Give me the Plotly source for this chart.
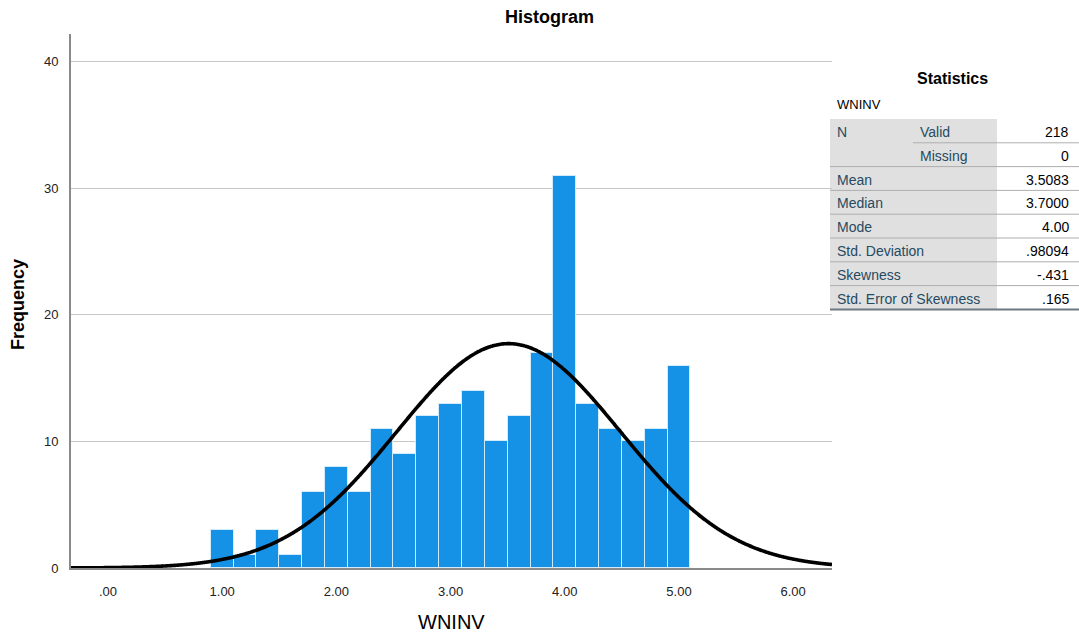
import numpy as np
import plotly.graph_objects as go

# ---- data ----
bin_centers = [1.0, 1.2, 1.4, 1.6, 1.8, 2.0, 2.2, 2.4, 2.6, 2.8, 3.0,
               3.2, 3.4, 3.6, 3.8, 4.0, 4.2, 4.4, 4.6, 4.8, 5.0]
frequencies = [3, 1, 3, 1, 6, 8, 6, 11, 9, 12, 13,
               14, 10, 12, 17, 31, 13, 11, 10, 11, 16]
bin_width = 0.2
n_valid = 218
n_missing = 0
mean_val = 3.5083
median_val = 3.7000
mode_val = 4.00
std_val = 0.98094
skew_val = -0.431
se_skew_val = 0.165

x_tick_vals = [0, 1, 2, 3, 4, 5, 6]
x_tick_text = [".00", "1.00", "2.00", "3.00", "4.00", "5.00", "6.00"]
y_tick_vals = [0, 10, 20, 30, 40]

stat_labels = ["Mean", "Median", "Mode", "Std. Deviation", "Skewness", "Std. Error of Skewness"]
stat_values = ["3.5083", "3.7000", "4.00", ".98094", "-.431", ".165"]

W, H = 1079, 635
def px(x):
    return x / W
def py(y):
    return 1 - y / H

x_range = [-0.324, 6.34]
y_range = [0, 42.2]

fig = go.Figure()
fig.add_trace(go.Bar(
    x=bin_centers, y=frequencies, width=bin_width,
    marker=dict(color="#1591E6", line=dict(color="rgba(220,238,252,0.9)", width=1)),
    showlegend=False, hoverinfo="x+y"))

xs = np.linspace(x_range[0], x_range[1], 600)
ys = n_valid * bin_width / (std_val * np.sqrt(2 * np.pi)) * np.exp(-0.5 * ((xs - mean_val) / std_val) ** 2)
fig.add_trace(go.Scatter(x=xs, y=ys, mode="lines", line=dict(color="#000000", width=3.6, shape="spline"),
                         showlegend=False, hoverinfo="skip"))

fig.update_layout(
    width=W, height=H,
    margin=dict(l=0, r=0, t=0, b=0),
    paper_bgcolor="white", plot_bgcolor="white",
    font=dict(family="Liberation Sans, Arial, sans-serif", color="#222222"),
    bargap=0,
    xaxis=dict(domain=[px(71), px(832)], range=x_range, tickvals=x_tick_vals, ticktext=x_tick_text,
               showgrid=False, zeroline=False, showline=True, linecolor="#8a8a8a", linewidth=2,
               ticks="", tickfont=dict(size=13, color="#222222"), ticklabelstandoff=10, automargin=False),
    yaxis=dict(domain=[py(568), py(34)], range=y_range, tickvals=y_tick_vals,
               showgrid=True, gridcolor="#c6c6c6", gridwidth=1.3, zeroline=False,
               showline=True, linecolor="#8a8a8a", linewidth=2,
               ticks="", tickfont=dict(size=13, color="#222222"), ticklabelstandoff=8, automargin=False),
)

ann = []
ann.append(dict(x=px(549), y=py(17), xref="paper", yref="paper", text="<b>Histogram</b>",
                showarrow=False, font=dict(size=18, color="#000000"), xanchor="center", yanchor="middle"))
ann.append(dict(x=px(451), y=py(622), xref="paper", yref="paper", text="WNINV",
                showarrow=False, font=dict(size=20, color="#000000"), xanchor="center", yanchor="middle"))
ann.append(dict(x=px(18), y=py(305), xref="paper", yref="paper", text="<b>Frequency</b>", textangle=-90,
                showarrow=False, font=dict(size=18, color="#000000"), xanchor="center", yanchor="middle"))

# ---- statistics table ----
shapes = []
t_left, t_mid, t_sub, t_right = 830, 997, 913, 1079
top = 119
rh = 23.8
nrows = 8
bottom = top + rh * nrows
label_color = "#264A60"
val_color = "#010205"
lab_font = dict(size=14, color=label_color)
val_font = dict(size=14, color=val_color)

shapes.append(dict(type="rect", xref="paper", yref="paper", x0=px(t_left), x1=px(t_mid),
                   y0=py(bottom), y1=py(top), fillcolor="#E0E0E0", line=dict(width=0), layer="below"))
for i in range(1, nrows):
    yy = top + rh * i
    x0 = t_sub if i == 1 else t_left
    shapes.append(dict(type="line", xref="paper", yref="paper", x0=px(x0), x1=px(t_right),
                       y0=py(yy), y1=py(yy), line=dict(color="#AEAEAE", width=1)))
shapes.append(dict(type="line", xref="paper", yref="paper", x0=px(t_left), x1=px(t_right),
                   y0=py(bottom), y1=py(bottom), line=dict(color="#6E7880", width=2)))

ann.append(dict(x=px(952), y=py(78), xref="paper", yref="paper", text="<b>Statistics</b>",
                showarrow=False, font=dict(size=16, color="#000000"), xanchor="center", yanchor="middle"))
ann.append(dict(x=px(835), y=py(104), xref="paper", yref="paper", text="WNINV",
                showarrow=False, font=dict(size=13, color="#000000"), xanchor="left", yanchor="middle"))

def row_y(i):
    return py(top + rh * i + rh / 2 + 1)

ann.append(dict(x=px(835), y=row_y(0), xref="paper", yref="paper", text="N", showarrow=False,
                font=lab_font, xanchor="left", yanchor="middle"))
ann.append(dict(x=px(918), y=row_y(0), xref="paper", yref="paper", text="Valid", showarrow=False,
                font=lab_font, xanchor="left", yanchor="middle"))
ann.append(dict(x=px(918), y=row_y(1), xref="paper", yref="paper", text="Missing", showarrow=False,
                font=lab_font, xanchor="left", yanchor="middle"))
ann.append(dict(x=px(1071), y=row_y(0), xref="paper", yref="paper", text=str(n_valid), showarrow=False,
                font=val_font, xanchor="right", yanchor="middle"))
ann.append(dict(x=px(1071), y=row_y(1), xref="paper", yref="paper", text=str(n_missing), showarrow=False,
                font=val_font, xanchor="right", yanchor="middle"))
for j, (lab, val) in enumerate(zip(stat_labels, stat_values)):
    ann.append(dict(x=px(835), y=row_y(j + 2), xref="paper", yref="paper", text=lab, showarrow=False,
                    font=lab_font, xanchor="left", yanchor="middle"))
    ann.append(dict(x=px(1071), y=row_y(j + 2), xref="paper", yref="paper", text=val, showarrow=False,
                    font=val_font, xanchor="right", yanchor="middle"))

fig.update_layout(annotations=ann, shapes=shapes)
fig.write_html("out.html")
